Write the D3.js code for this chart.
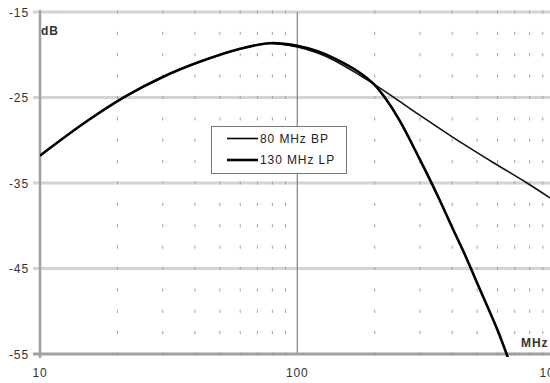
<!DOCTYPE html>
<html>
<head>
<meta charset="utf-8">
<script src="https://cdn.jsdelivr.net/npm/d3@7"></script>
<style>
  body { margin: 0; background: #fff; }
  svg { display: block; font-family: "Liberation Sans", Arial, sans-serif; }
  text { letter-spacing: 0.9px; }
</style>
</head>
<body>
<div id="chart"></div>
<script>
// chart data
var freqBP = [10, 15, 21.4, 30, 42, 60, 78, 100, 120, 140, 175, 198, 235, 300, 400, 577, 781, 1000];
var dbBP   = [-31.8, -27.9, -24.9, -22.6, -20.8, -19.3, -18.65, -19.1, -19.8, -20.7, -22.4, -23.4, -24.9, -27.1, -29.6, -32.6, -35.0, -37.1];

var freqLP = [10, 15, 21.4, 30, 42, 60, 78, 100, 120, 140, 175, 198, 220, 250, 300, 350, 400, 450, 500, 600, 680];
var dbLP   = [-31.8, -27.9, -24.9, -22.6, -20.8, -19.3, -18.65, -18.95, -19.6, -20.45, -22.1, -23.4, -25.1, -27.7, -32.3, -36.4, -40.2, -43.5, -46.7, -52.2, -56.6];

var seriesNames = ["80 MHz BP", "130 MHz LP"];
var xTicks = [10, 100, 1000];
var yTicks = [-15, -25, -35, -45, -55];

var width = 550,
    height = 383;

var svg = d3.select("#chart").append("svg")
    .attr("width", width)
    .attr("height", height);

var x = d3.scaleLog().domain([10, 1000]).range([40, 554.6]);
var y = d3.scaleLinear().domain([-55, -15]).range([354, 12]);

// minor grid marks: small dashes at every minor decade tick and every 2.5 dB
var minorX = [];
[10, 100].forEach(function(base) {
  for (var k = 2; k <= 9; k++) minorX.push(base * k);
});
var minorY = d3.range(-55, -14.9, 2.5);

var marks = [];
minorX.forEach(function(f) {
  minorY.forEach(function(v) { marks.push({f: f, v: v}); });
});

// major horizontal lines
svg.append("g").selectAll("line")
    .data(yTicks.filter(function(d) { return d != -55; }))
  .enter().append("line")
    .attr("x1", 33).attr("x2", width)
    .attr("y1", function(d) { return y(d); })
    .attr("y2", function(d) { return y(d); })
    .attr("stroke", "#d4d4d4")
    .attr("stroke-width", 3);

svg.append("g").selectAll("line")
    .data(marks)
  .enter().append("line")
    .attr("x1", function(d) { return x(d.f); })
    .attr("x2", function(d) { return x(d.f); })
    .attr("y1", function(d) { return y(d.v) - 1.6; })
    .attr("y2", function(d) { return y(d.v) + 1.6; })
    .attr("stroke", "#a0a0a0")
    .attr("stroke-width", 1);

// vertical line at 100 MHz
svg.append("line")
    .attr("x1", x(100)).attr("x2", x(100))
    .attr("y1", y(-15)).attr("y2", y(-55))
    .attr("stroke", "#8a8a8a")
    .attr("stroke-width", 1.3);

// axes lines
svg.append("line")
    .attr("x1", 33).attr("x2", width)
    .attr("y1", y(-55)).attr("y2", y(-55))
    .attr("stroke", "#a0a0a0")
    .attr("stroke-width", 3);

svg.append("line")
    .attr("x1", x(10)).attr("x2", x(10))
    .attr("y1", y(-15) - 2).attr("y2", y(-55) + 4)
    .attr("stroke", "#a0a0a0")
    .attr("stroke-width", 2.5);

// tick labels
svg.append("g").selectAll("text")
    .data(yTicks)
  .enter().append("text")
    .attr("x", 29)
    .attr("y", function(d) { return y(d) + 4.5; })
    .attr("text-anchor", "end")
    .style("font-size", "12px")
    .style("fill", "#333")
    .text(function(d) { return d; });

svg.append("g").selectAll("text")
    .data(xTicks)
  .enter().append("text")
    .attr("x", function(d) { return x(d); })
    .attr("y", 377)
    .attr("text-anchor", "middle")
    .style("font-size", "12px")
    .style("fill", "#333")
    .text(function(d) { return d; });

svg.append("text")
    .attr("x", 41).attr("y", 35)
    .style("font-size", "12px")
    .style("font-weight", "bold")
    .style("fill", "#333")
    .text("dB");

svg.append("text")
    .attr("x", 521).attr("y", 347)
    .style("font-size", "12px")
    .style("font-weight", "bold")
    .style("fill", "#333")
    .text("MHz");

// curves
svg.append("clipPath").attr("id", "plot")
  .append("rect")
    .attr("x", 40).attr("y", 0)
    .attr("width", 520).attr("height", 357);

var line = d3.line()
    .x(function(d) { return x(d[0]); })
    .y(function(d) { return y(d[1]); })
    .curve(d3.curveCatmullRom.alpha(0.5));

var bp = freqBP.map(function(f, i) { return [f, dbBP[i]]; });
var lp = freqLP.map(function(f, i) { return [f, dbLP[i]]; });

svg.append("path")
    .datum(bp)
    .attr("clip-path", "url(#plot)")
    .attr("d", line)
    .attr("fill", "none")
    .attr("stroke", "#111")
    .attr("stroke-width", 1.6);

svg.append("path")
    .datum(lp)
    .attr("clip-path", "url(#plot)")
    .attr("d", line)
    .attr("fill", "none")
    .attr("stroke", "#000")
    .attr("stroke-width", 2.6);

// legend
var legend = svg.append("g");
legend.append("rect")
    .attr("x", 211.5).attr("y", 126.5)
    .attr("width", 135).attr("height", 47)
    .attr("fill", "#fff")
    .attr("stroke", "#777")
    .attr("stroke-width", 1);

legend.selectAll("line")
    .data(seriesNames)
  .enter().append("line")
    .attr("x1", 227).attr("x2", 258)
    .attr("y1", function(d, i) { return 138.5 + i * 21.5; })
    .attr("y2", function(d, i) { return 138.5 + i * 21.5; })
    .attr("stroke", "#000")
    .attr("stroke-width", function(d, i) { return i == 0 ? 1.6 : 2.6; });

legend.selectAll("text")
    .data(seriesNames)
  .enter().append("text")
    .attr("x", 260)
    .attr("y", function(d, i) { return 142.5 + i * 21.5; })
    .style("font-size", "12px")
    .style("fill", "#222")
    .text(function(d) { return d; });
</script>
</body>
</html>
